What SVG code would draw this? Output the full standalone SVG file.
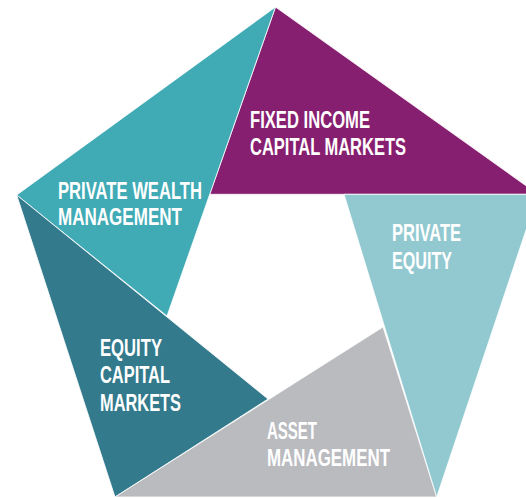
<svg xmlns="http://www.w3.org/2000/svg" width="526" height="498" viewBox="0 0 526 498">
<style>
.seg{stroke:#ffffff;stroke-width:0.8;stroke-linejoin:miter}
.lbl{font-family:"Liberation Sans",Arial,sans-serif;font-weight:bold;font-size:23px;fill:#ffffff}
</style>
<rect width="526" height="498" fill="#ffffff"/>
<g id="fixed-income">
<polygon class="seg" fill="#871f70" points="275.5,7 538,194.3 209.7,194.3"/>
<text class="lbl" x="250" y="128" textLength="120" lengthAdjust="spacingAndGlyphs">FIXED INCOME</text>
<text class="lbl" x="250" y="155" textLength="156" lengthAdjust="spacingAndGlyphs">CAPITAL MARKETS</text>
</g>
<g id="private-wealth">
<polygon class="seg" fill="#40aab5" points="16.7,195 275.5,7 167,316"/>
<text class="lbl" x="58" y="199" textLength="144" lengthAdjust="spacingAndGlyphs">PRIVATE WEALTH</text>
<text class="lbl" x="58" y="225" textLength="124" lengthAdjust="spacingAndGlyphs">MANAGEMENT</text>
</g>
<g id="equity-capital">
<polygon class="seg" fill="#327a8c" points="16.7,195 268,399 115,497"/>
<text class="lbl" x="100" y="356" textLength="62" lengthAdjust="spacingAndGlyphs">EQUITY</text>
<text class="lbl" x="100" y="383" textLength="70" lengthAdjust="spacingAndGlyphs">CAPITAL</text>
<text class="lbl" x="100" y="411" textLength="81" lengthAdjust="spacingAndGlyphs">MARKETS</text>
</g>
<g id="asset-management">
<polygon class="seg" fill="#babbbf" points="115,497 383,327 436.7,497"/>
<text class="lbl" x="267" y="439" textLength="50" lengthAdjust="spacingAndGlyphs">ASSET</text>
<text class="lbl" x="267" y="466" textLength="123" lengthAdjust="spacingAndGlyphs">MANAGEMENT</text>
</g>
<g id="private-equity">
<polygon class="seg" fill="#92c9d1" points="344,194.3 538,194.3 436.7,497"/>
<text class="lbl" x="392" y="241" textLength="69" lengthAdjust="spacingAndGlyphs">PRIVATE</text>
<text class="lbl" x="392" y="269" textLength="60" lengthAdjust="spacingAndGlyphs">EQUITY</text>
</g>
<g id="connectors"></g>
</svg>
